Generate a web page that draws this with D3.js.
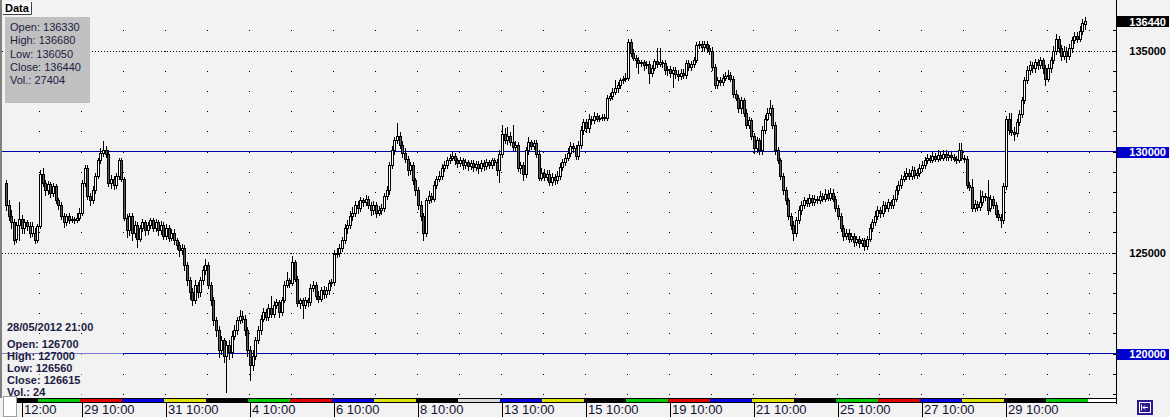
<!DOCTYPE html>
<html><head><meta charset="utf-8">
<script src="https://cdn.jsdelivr.net/npm/d3@7"></script>
<style>
html,body{margin:0;padding:0;background:#f2f2f2;overflow:hidden;}
svg{display:block;font-family:"Liberation Sans",Arial,sans-serif;}
</style></head><body>
<svg id="c" width="1170" height="417"></svg>
<script>
// ---------- DATA ----------
const opens=[
128420,127330,126830,126490,125690,126340,126680,126190,126490,126290,
125990,125990,125600,126290,128910,128420,128070,128370,127970,128270,
127580,127330,126830,126490,126830,126590,126680,126590,126730,126980,
128420,129160,127820,127580,128070,128810,129560,129950,130050,129900,
128420,128660,128320,128810,129560,128660,126730,126090,126830,125990,
126340,125690,126190,126490,126090,126340,126590,126190,126490,126090,
126340,125840,126190,125740,125990,125600,125350,125100,125200,124360,
123620,123020,122630,123370,123020,123620,124110,124360,123370,122630,
121640,121140,120150,120650,119900,120400,120050,120890,121140,121640,
121880,121730,121140,120150,119410,119900,120650,121140,121730,122030,
121830,122230,121980,122380,122530,122030,122630,123370,123620,123470,
124510,123710,122480,122630,122380,122630,122530,123220,123370,122870,
122720,123120,122970,123120,123470,123520,124950,125000,125200,125600,
126190,126340,126830,126980,127330,127180,127580,127480,127670,127330,
127080,127330,126980,127080,127180,127820,128070,129310,130050,130550,
130790,130300,129950,129650,129060,129310,128570,128070,127330,126830,
125990,127580,127820,127670,128320,128660,128810,129160,129310,129560,
129700,129800,129560,129410,129560,129310,129460,129260,129410,129210,
129360,129160,129410,129260,129460,129310,129560,129460,129060,129900,
130890,130550,130790,130450,130200,130300,129160,129310,128910,130050,
130450,130250,130400,129900,128710,128960,128760,128910,128470,128760,
128570,128810,129210,129460,129700,129950,130250,130150,129800,130300,
131040,131440,131140,131630,131540,131780,131630,131680,131730,131680,
132670,132770,132970,133120,133270,133520,133610,133660,135400,134900,
134650,134550,134360,134410,134260,134310,133910,134110,134460,134310,
134410,134360,134010,134060,133910,134010,133860,133760,133910,133810,
134360,134160,134310,134510,135250,135300,135150,135300,135100,135000,
134160,133270,133520,133420,133660,133760,133810,133610,132870,132670,
132130,132530,131930,131290,131540,130790,130150,130550,130050,131040,
131630,131930,132130,131290,130050,129560,128810,128070,127580,126830,
126340,125990,126590,127080,127330,127580,127430,127720,127480,127670,
127580,127820,127670,127920,127720,127970,127670,127180,126830,126190,
125840,125990,125690,125840,125500,125690,125450,125600,125300,125690,
126190,126490,126830,127080,126980,127330,127180,127480,127330,127670,
128070,128320,128660,128810,128960,128810,129060,128860,128960,129160,
129310,129560,129700,129600,129800,129650,129850,129700,129900,129750,
129850,129750,129650,129560,130050,129700,129650,128320,128220,127180,
127380,127230,127480,127820,127770,127180,127670,127330,126930,126780,
126590,128270,131630,131040,130990,130940,131440,131880,132530,133520,
134010,134260,134110,134410,134260,134510,134110,133610,134110,134510,
135000,135590,135100,134750,135000,134750,135100,135500,135740,135590,
135990,136330];
const highs=[
128570,127580,127080,126680,126490,127480,126880,126680,126630,126490,
126490,126190,126390,129060,129160,128570,128520,128470,128420,128370,
127720,127480,126980,126930,126980,126830,126780,126980,127180,128570,
129310,129310,127970,128270,128960,129700,130150,130500,130250,130050,
128860,128810,128960,129700,129700,128760,126930,126980,126980,126540,
126490,126340,126680,126630,126490,126730,126730,126680,126630,126540,
126490,126390,126340,126140,126140,125740,125500,125400,125350,124510,
123810,123220,123620,123520,123810,124310,124700,124510,123520,122820,
121830,121340,120890,120790,120600,120650,121090,121390,121830,122130,
122080,121930,121290,120350,120150,120840,121340,121930,122230,122180,
122430,122870,122580,122720,122670,122820,123570,124010,123760,124850,
124650,123860,122770,122770,122820,122770,123420,123570,123520,123070,
123270,123320,123270,123620,123710,125100,125200,125400,125790,126390,
126590,127030,127230,127530,127530,127770,127720,127870,127820,127480,
127530,127480,127280,127380,127970,128270,129460,130250,130740,131390,
130990,130500,130150,129800,129460,129460,128710,128220,127530,126980,
127720,128020,127970,128520,128810,129010,129360,129510,129750,129900,
130000,129950,129700,129750,129700,129650,129600,129560,129560,129510,
129510,129560,129560,129650,129600,129700,129700,129650,130050,131290,
131140,131190,130990,131290,130500,130450,129460,129460,130200,130740,
130590,130550,130550,130050,129160,129110,129060,129060,128960,128910,
129010,129410,129650,129900,130150,130450,130400,130300,130500,131240,
131630,131630,131880,131780,131980,131930,131830,131880,131880,132820,
132920,133120,133520,133420,133660,133760,133910,135590,135590,135050,
134800,134700,134550,134550,134460,134460,134260,134600,135100,135100,
134550,134510,134210,134210,134160,134160,134010,134060,134060,134510,
134510,134460,134700,135400,135450,135450,135450,135450,135250,135150,
134310,133710,133710,133860,133960,134010,133960,133760,133020,132820,
132720,132670,132080,131730,131680,130940,130740,130690,131240,131830,
132130,132530,132280,131440,130200,129700,128960,128220,127720,126980,
126540,126780,127280,127530,127770,127720,127920,127870,127870,127820,
128020,127970,128120,128070,128170,128120,127820,127330,126980,126340,
126140,126140,125990,125990,125840,125840,125740,125740,125840,126390,
126680,127030,127280,127230,127530,127480,127670,127620,127870,128270,
128520,128860,129010,129160,129110,129260,129210,129110,129360,129510,
129750,129900,129850,130000,129950,130050,130000,130050,130050,130000,
130000,129900,129800,130400,130400,129850,129800,128470,128660,127580,
127530,128070,128020,127970,128570,127870,127820,127480,127080,126930,
128420,131780,131930,131930,131190,131630,132030,132720,133710,134210,
134460,134410,134600,134600,134700,134650,134260,134310,134700,135200,
135840,135740,135250,135200,135150,135300,135690,135940,135940,136190,
136540,136680];
const lows=[
127080,126590,126190,125400,125500,125600,125990,125990,126090,125790,
125840,125450,125500,126190,128270,127870,127920,127770,127820,127430,
127130,126680,126240,126340,126440,126490,126440,126490,126630,126880,
128270,127670,127330,127430,127970,128710,129410,129800,129750,128270,
128170,128120,128170,128660,128520,126590,125790,125890,125600,125790,
125250,125550,126040,125890,125940,126190,126040,126040,125890,125940,
125690,125690,125550,125600,125400,125150,124850,124950,124110,123370,
122720,122380,122480,122820,122870,123420,123960,123220,122380,121390,
120890,119850,120000,119560,118070,119750,119850,120740,120990,121490,
121540,120940,119900,118670,119160,119750,120500,120990,121590,121640,
121680,121830,121830,122230,121830,121930,122530,123270,123270,123370,
123570,122330,122230,121780,122230,122330,122380,123070,122720,122530,
122580,122770,122820,122970,123320,123370,124800,124850,125050,125450,
125990,126190,126630,126830,126980,127030,127280,127330,127180,126880,
126930,126780,126880,126930,127030,127670,127920,129160,129900,130400,
130150,129750,129460,128860,128910,128370,127870,127130,126630,125600,
125840,127430,127480,127530,128170,128520,128660,129010,129160,129410,
129560,129360,129210,129260,129110,129160,129060,129110,129010,129060,
128960,129010,129060,129110,129160,129160,129310,128860,128470,129750,
130400,130350,130300,130050,130050,129010,128960,128570,128760,129900,
130100,130100,129750,128570,128570,128610,128610,128320,128320,128370,
128420,128660,129060,129310,129560,129800,130000,129650,129650,130150,
130890,130990,130990,131340,131390,131490,131490,131540,131540,131540,
132530,132620,132870,132970,133120,133370,133470,133520,134750,134510,
134160,133910,134210,134010,134110,133370,133760,134010,134160,134210,
134160,133860,133810,133710,133170,133660,133520,133610,133660,133660,
134010,134010,134160,134410,135100,135000,135000,134950,134850,134010,
133120,133120,133270,133270,133560,133610,133470,132720,132530,131980,
131930,131780,131140,131140,130640,129950,130000,129900,129900,130940,
131540,131830,131140,129900,129410,128660,127920,127380,126680,126140,
125600,125840,126440,126930,127180,127280,127280,127330,127330,127430,
127430,127530,127530,127580,127580,127530,127030,126680,126040,125640,
125690,125500,125550,125300,125350,125250,125300,125100,125150,125550,
126040,126340,126680,126780,126830,127030,127030,127180,127180,127530,
127920,128170,128520,128660,128660,128660,128710,128710,128810,129010,
129160,129410,129460,129460,129510,129510,129560,129560,129600,129600,
129600,129510,129410,129460,129560,129460,128170,128070,127030,127030,
127080,127080,127330,127620,126930,127030,127180,126780,126590,126240,
126440,128120,130890,130840,130550,130790,131290,131730,132380,133370,
133860,133960,133960,134060,134110,133910,133270,133470,133960,134360,
134850,134950,134550,134600,134410,134600,134950,135350,135400,135450,
135840,136050];
const closes=[
127330,126830,126490,125600,126340,126680,126190,126490,126290,125990,
126290,125600,126290,128910,128420,128070,128370,127970,128270,127580,
127330,126830,126490,126830,126590,126680,126590,126730,126980,128420,
129160,127820,127580,128070,128810,129560,129950,130050,129900,128420,
128660,128320,128810,129560,128660,126730,126090,126830,125990,126340,
125690,126190,126490,126090,126340,126590,126190,126490,126090,126340,
125840,126190,125740,125990,125600,125350,125100,125200,124360,123620,
123020,122630,123370,123020,123620,124110,124360,123370,122630,121640,
121140,120150,120650,119900,120400,120050,120890,121140,121640,121880,
121730,121140,120150,119410,119900,120650,121140,121730,122030,121830,
122230,121980,122380,122530,122030,122630,123370,123620,123470,124510,
123710,122480,122630,122380,122630,122530,123220,123370,122870,122720,
123120,122970,123120,123470,123520,124950,125000,125200,125600,126190,
126340,126830,126980,127330,127180,127580,127480,127670,127330,127080,
127330,126980,127080,127180,127820,128070,129310,130050,130550,130790,
130300,129950,129650,129060,129310,128570,128070,127330,126830,125990,
127580,127820,127670,128320,128660,128810,129160,129310,129560,129700,
129800,129560,129410,129560,129310,129460,129260,129410,129210,129360,
129160,129410,129260,129460,129310,129560,129460,129060,129900,130890,
130550,130790,130450,130200,130300,129160,129310,128910,130050,130450,
130250,130400,129900,128710,128960,128760,128910,128470,128760,128570,
128810,129210,129460,129700,129950,130250,130150,129800,130300,131040,
131440,131140,131630,131540,131780,131630,131680,131730,131680,132670,
132770,132970,133120,133270,133520,133610,133660,135400,134900,134650,
134550,134360,134410,134260,134310,133910,134110,134460,134310,134410,
134360,134010,134060,133910,134010,133860,133760,133910,133810,134360,
134160,134310,134510,135250,135300,135150,135300,135100,135000,134160,
133270,133520,133420,133660,133760,133810,133610,132870,132670,132130,
132530,131930,131290,131540,130790,130150,130550,130050,131040,131630,
131930,132130,131290,130050,129560,128810,128070,127580,126830,126340,
125990,126590,127080,127330,127580,127430,127720,127480,127670,127580,
127820,127670,127920,127720,127970,127670,127180,126830,126190,125840,
125990,125690,125840,125500,125690,125450,125600,125300,125690,126190,
126490,126830,127080,126980,127330,127180,127480,127330,127670,128070,
128320,128660,128810,128960,128810,129060,128860,128960,129160,129310,
129560,129700,129600,129800,129650,129850,129700,129900,129750,129850,
129750,129650,129560,130050,129700,129650,128320,128220,127180,127380,
127230,127480,127820,127770,127080,127670,127330,126930,126780,126590,
128270,131630,131040,130990,130890,131440,131880,132530,133520,134010,
134260,134110,134410,134260,134510,134110,133610,134110,134510,135000,
135590,135100,134750,135000,134750,135100,135500,135740,135590,135990,
136340,136440];

const tickIndex=[6,29,61,93,125,157,189,221,253,285,317,349,381];
const tickLabels=["12:00","29 10:00","31 10:00","4 10:00","6 10:00","8 10:00","13 10:00","15 10:00","19 10:00","21 10:00","25 10:00","27 10:00","29 10:00"];
const dayStartIndex=[13,29,45,61,77,93,109,125,141,157,173,189,205,221,237,253,269,285,301,317,333,349,365,381,397,413];
const dayColors=["#00c800","#e00000","#0000e0","#e0e000","#000000","#00c800","#e00000","#0000e0","#e0e000","#000000","#d8d8d8","#0000e0","#e0e000","#000000","#00c800","#e00000","#0000e0","#e0e000","#000000","#00c800","#e00000","#0000e0","#e0e000","#000000","#00c800","#ffffff"];
const solidLevels=[130000,120000];
const dottedLevels=[135000,125000];
const axisLevels=[135000,130000,125000,120000];
const highlightLevels=[130000,120000];
const lastPrice=136440;
const infoTop=["Open: 136330","High: 136680","Low: 136050","Close: 136440","Vol.: 27404"];
const infoBottomTitle="28/05/2012 21:00";
const infoBottom=["Open: 126700","High: 127000","Low: 126560","Close: 126615","Vol.: 24"];

// ---------- LAYOUT ----------
const svg=d3.select("#c");
const plotRight=1116, plotBottom=403;
const n=closes.length;
const x=d3.scaleLinear().domain([0,411]).range([5.875,5.875+411*2.625]);
const y=d3.scaleLinear().domain([120000,130000]).range([353.5,151.5]);
const ry=v=>Math.round(y(v));

svg.append("rect").attr("width",1170).attr("height",417).attr("fill","#f2f2f2");

// dot grid
const gridVals=d3.range(118000,137000,1000);
const gDots=svg.append("g");
dayStartIndex.forEach(di=>{
  const gx=Math.round(x(di))-1;
  if(gx>=plotRight) return;
  gridVals.forEach(v=>{
    gDots.append("rect").attr("x",gx).attr("y",ry(v)).attr("width",1).attr("height",1).attr("fill","#000");
  });
});

// level lines
dottedLevels.forEach(v=>{
  svg.append("line").attr("x1",2).attr("x2",plotRight).attr("y1",ry(v)+0.5).attr("y2",ry(v)+0.5)
    .attr("stroke","#000").attr("stroke-dasharray","1,2");
});
solidLevels.forEach(v=>{
  svg.append("line").attr("x1",2).attr("x2",plotRight).attr("y1",Math.floor(y(v))+0.5).attr("y2",Math.floor(y(v))+0.5)
    .attr("stroke","#0000a8");
});

// candles
const idx=d3.range(n);
const gC=svg.append("g");
gC.selectAll("line.w").data(idx).join("line")
  .attr("x1",i=>Math.round(x(i))+0.5).attr("x2",i=>Math.round(x(i))+0.5)
  .attr("y1",i=>ry(highs[i])).attr("y2",i=>ry(lows[i])+1)
  .attr("stroke","#000");
gC.selectAll("rect.b").data(idx).join("rect")
  .attr("x",i=>Math.round(x(i))-0.5).attr("width",2)
  .attr("y",i=>ry(Math.max(opens[i],closes[i]))+0.5)
  .attr("height",i=>Math.max(1,ry(Math.min(opens[i],closes[i]))-ry(Math.max(opens[i],closes[i]))))
  .attr("fill",i=>closes[i]>=opens[i]?"#ffffff":"#5a5a5a")
  .attr("stroke","#000");

// top-left info box
svg.append("rect").attr("x",5).attr("y",17).attr("width",85).attr("height",86).attr("fill","#c0c0c0");
infoTop.forEach((t,k)=>{
  svg.append("text").attr("x",10).attr("y",31+k*13.3).attr("font-size",11).attr("fill","#1c1c44").text(t);
});
// Data button
svg.append("rect").attr("x",3).attr("y",2).attr("width",29).attr("height",12).attr("fill","#fcfcfc");
svg.append("path").attr("d","M31.5,2 V14.5 H3").attr("fill","none").attr("stroke","#404040");
svg.append("text").attr("x",5).attr("y",12).attr("font-size",11).attr("font-weight","bold").attr("fill","#000").text("Data");

// bottom-left info
svg.append("rect").attr("x",2).attr("y",336).attr("width",121).attr("height",62).attr("fill","#f2f2f2").attr("opacity",0.5);
svg.append("text").attr("x",7).attr("y",331).attr("font-size",11).attr("font-weight","bold").attr("fill","#1c1c44").text(infoBottomTitle);
infoBottom.forEach((t,k)=>{
  svg.append("text").attr("x",7).attr("y",347.5+k*12).attr("font-size",11).attr("font-weight","bold").attr("fill","#1c1c44").text(t);
});

// left border
svg.append("rect").attr("x",0).attr("y",0).attr("width",2).attr("height",398).attr("fill","#808080");

// bottom day bar
svg.append("rect").attr("x",17).attr("y",398).attr("width",plotRight-17).attr("height",5).attr("fill","#000");
dayStartIndex.forEach((di,k)=>{
  const x0=Math.round(x(di))-2;
  const x1=Math.min(plotRight, Math.round(x(di+16))-2);
  if(x0>=plotRight) return;
  svg.append("rect").attr("x",x0).attr("y",399).attr("width",x1-x0).attr("height",3).attr("fill",dayColors[k]);
});
// right plot border
svg.append("line").attr("x1",plotRight+0.5).attr("x2",plotRight+0.5).attr("y1",0).attr("y2",plotBottom+1).attr("stroke","#000");

// x axis ticks & labels
tickIndex.forEach((ti,k)=>{
  const tx=Math.round(x(ti))+0.5;
  svg.append("line").attr("x1",tx).attr("x2",tx).attr("y1",plotBottom).attr("y2",417).attr("stroke","#000");
  svg.append("text").attr("x",tx+1.5).attr("y",413.5).attr("font-size",13).attr("fill","#111133").text(tickLabels[k]);
});

// corner box
svg.append("rect").attr("x",3.5).attr("y",396.5).attr("width",13).attr("height",20).attr("fill","#fff").attr("stroke","#a0a0a0");

// right axis ticks
gridVals.forEach(v=>{
  svg.append("line").attr("x1",plotRight-3).attr("x2",plotRight).attr("y1",ry(v)+0.5).attr("y2",ry(v)+0.5).attr("stroke","#000");
});
// right axis labels
axisLevels.forEach(v=>{
  const hl=highlightLevels.includes(v);
  const cy=y(v);
  if(hl){
    svg.append("rect").attr("x",plotRight+1).attr("y",Math.round(cy)-5).attr("width",52).attr("height",11).attr("fill","#0000cc");
  }
  svg.append("text").attr("x",1166).attr("y",cy+4.5).attr("text-anchor","end").attr("font-size",11).attr("font-weight","bold")
    .attr("fill",hl?"#ffffff":"#000000").text(v);
});
// last price label
{
  const cy=y(lastPrice);
  svg.append("rect").attr("x",plotRight+1).attr("y",Math.round(cy)-5).attr("width",52).attr("height",11).attr("fill","#000");
  svg.append("text").attr("x",1166).attr("y",cy+4.5).attr("text-anchor","end").attr("font-size",11).attr("font-weight","bold")
    .attr("fill","#ffffff").text(lastPrice);
}

// bottom-right icon
svg.append("rect").attr("x",1137).attr("y",400).attr("width",16).attr("height",15).attr("fill","#2e1a8e");
svg.append("rect").attr("x",1139.5).attr("y",402.5).attr("width",11).attr("height",10).attr("fill","none").attr("stroke","#fff");
svg.append("path").attr("d","M1141.5,404.5 V410.5 M1148,407.5 H1143 M1145,405.5 L1143,407.5 L1145,409.5").attr("fill","none").attr("stroke","#fff");
</script>
</body></html>
